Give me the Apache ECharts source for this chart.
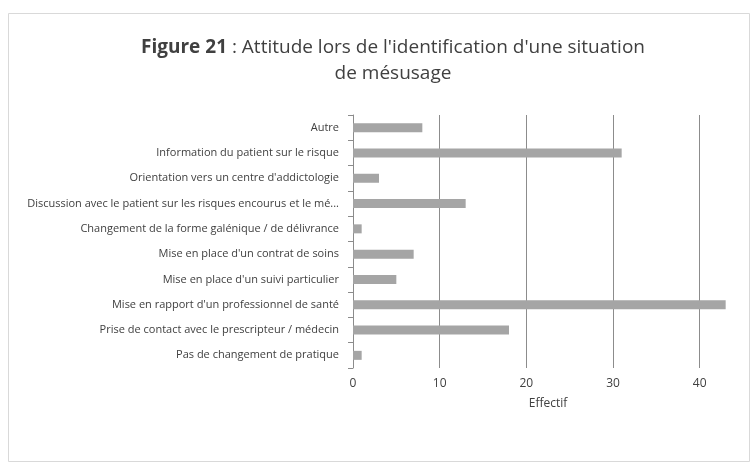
<!DOCTYPE html>
<html>
<head>
<meta charset="utf-8">
<script src="https://cdn.jsdelivr.net/npm/echarts@6/dist/echarts.min.js"></script>
<style>
  html, body { margin: 0; padding: 0; background: #ffffff; }
  #chart { width: 756px; height: 468px; }
</style>
</head>
<body>
<div id="chart"></div>
<script>
// Attitudes reported when a misuse situation is identified (bottom-to-top order of the axis)
const categories = [
  "Pas de changement de pratique",
  "Prise de contact avec le prescripteur / médecin",
  "Mise en rapport d'un professionnel de santé",
  "Mise en place d'un suivi particulier",
  "Mise en place d'un contrat de soins",
  "Changement de la forme galénique / de délivrance",
  "Discussion avec le patient sur les risques encourus et le mésusage",
  "Orientation vers un centre d'addictologie",
  "Information du patient sur le risque",
  "Autre"
];
const counts = [1, 18, 43, 5, 7, 1, 13, 3, 31, 8];
const xTicks = [0, 10, 20, 30, 40];
const axisName = "Effectif";

const chart = echarts.init(document.getElementById('chart'), null, { renderer: 'canvas' });

const option = {
  backgroundColor: '#ffffff',
  animation: false,
  graphic: [{
    type: 'rect',
    shape: { x: 8.5, y: 13.5, width: 741, height: 448 },
    style: { fill: 'none', stroke: '#d9d9d9', lineWidth: 1 },
    silent: true
  }],
  title: {
    text: '{b|Figure 21} : Attitude lors de l\'identification d\'une situation\nde mésusage',
    left: 388,
    textAlign: 'center',
    top: 30,
    textStyle: {
      fontFamily: 'Open Sans',
      fontSize: 19,
      fontWeight: 'normal',
      color: '#404040',
      lineHeight: 26,
      rich: {
        b: { fontFamily: 'Open Sans', fontSize: 19, fontWeight: 'bold', color: '#404040' }
      }
    }
  },
  grid: {
    left: 353,
    right: 13,
    top: 115,
    bottom: 100,
    containLabel: false
  },
  xAxis: {
    type: 'value',
    min: xTicks[0],
    max: 45,
    interval: xTicks[1] - xTicks[0],
    name: axisName,
    nameLocation: 'middle',
    nameGap: 30,
    nameTextStyle: { fontFamily: 'Open Sans', fontSize: 12, color: '#404040' },
    axisLine: { show: false },
    axisTick: { show: false },
    axisLabel: {
      showMaxLabel: false,
      fontFamily: 'Open Sans',
      fontSize: 12,
      color: '#404040',
      margin: 10
    },
    splitLine: {
      show: true,
      showMaxLine: false,
      lineStyle: { color: '#8c8c8c', width: 1 }
    }
  },
  yAxis: {
    type: 'category',
    data: categories,
    axisLine: { show: true, lineStyle: { color: '#8c8c8c', width: 1 } },
    axisTick: { show: true, length: 5, lineStyle: { color: '#8c8c8c' } },
    axisLabel: {
      fontFamily: 'Open Sans',
      fontSize: 11,
      color: '#404040',
      margin: 14,
      width: 316,
      overflow: 'truncate',
      ellipsis: '...'
    },
    splitLine: { show: false }
  },
  series: [{
    type: 'bar',
    data: counts,
    barWidth: 9,
    itemStyle: { color: '#a5a5a5' },
    silent: true
  }]
};

chart.setOption(option);
</script>
</body>
</html>
